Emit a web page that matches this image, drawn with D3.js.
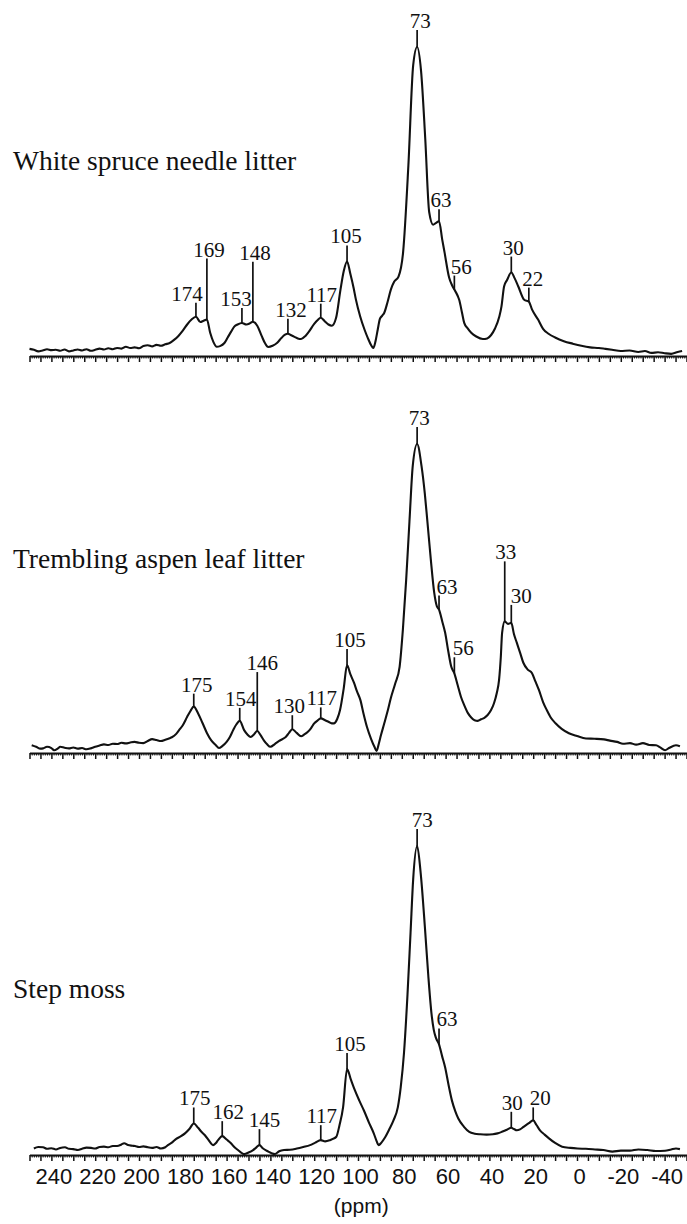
<!DOCTYPE html>
<html>
<head>
<meta charset="utf-8">
<script src="https://cdn.jsdelivr.net/npm/d3@7"></script>
<style>
  html, body { margin: 0; padding: 0; background: #fff; }
  svg { display: block; }
</style>
</head>
<body>
<svg id="chart" width="687" height="1224"></svg>
<script>
// Solid-state 13C CPMAS NMR spectra of three forest-floor litters.
// Each spectrum: [chemical shift (ppm), relative intensity (main 73 ppm peak = 100)].

const sampleNames = ["White spruce needle litter", "Trembling aspen leaf litter", "Step moss"];

const spruceSpectrum = [
  [250, 2.3], [248, 2.0], [246, 1.5], [244, 1.8], [242, 2.2], [240, 1.9], [238, 2.0], [236, 1.7],
  [234, 2.1], [232, 1.5], [230, 1.8], [228, 2.1], [226, 1.8], [224, 2.2], [222, 1.7], [220, 2.0],
  [218, 2.4], [216, 2.1], [214, 2.5], [212, 2.2], [210, 2.6], [208, 2.4], [206, 3.0], [204, 2.6],
  [202, 2.8], [200, 2.5], [198, 3.2], [196, 3.5], [194, 3.1], [192, 3.6], [190, 3.3], [188, 3.8],
  [186, 4.2], [184, 5.2], [182, 6.5], [180, 8.2], [178, 10.2], [176, 11.8], [174, 12.7], [172, 11.0],
  [170.5, 11.4], [169, 11.8], [167.5, 7.5], [166, 4.5], [164.5, 3.0], [163, 3.2], [161, 4.2], [159.5, 6.0],
  [158, 7.8], [156.5, 9.5], [155, 10.2], [153, 10.7], [151, 10.2], [149.5, 10.5], [148, 11.1], [146, 9.8],
  [144, 6.5], [142.5, 4.2], [141, 2.9], [139, 3.3], [137, 4.2], [135, 5.8], [133.5, 6.8], [132, 7.2],
  [130.5, 6.7], [129, 6.2], [127.5, 5.7], [126, 5.5], [124, 6.5], [122.5, 7.8], [120, 10.4], [118.5, 11.6],
  [117, 12.4], [115, 11.1], [113.5, 10.2], [112, 9.8], [110, 12.4], [108, 21.5], [106.5, 27.5], [105, 30.6],
  [103.5, 26.6], [102, 22.0], [101, 18.4], [99, 12.8], [97, 8.5], [95.5, 5.8], [94, 3.5], [93, 2.6],
  [92, 4.8], [91, 8.5], [90, 12.0], [89, 13.0], [88, 14.0], [86.5, 17.5], [85, 21.5], [83.5, 24.0],
  [81.5, 25.7], [79.4, 33.6], [77, 61.6], [74.8, 94.1], [73, 100], [71.2, 92.2], [69.3, 70.4], [67.5, 46.6],
  [65.7, 42.5], [64.5, 43.0], [63, 43.6], [61.5, 37.5], [60.5, 33.6], [58.4, 25.4], [57, 22.8], [56, 21.5],
  [54.5, 19.5], [53.8, 18.2], [52.5, 14.0], [51.5, 10.7], [50, 9.0], [48.3, 7.5], [46, 6.3], [43, 5.5],
  [41, 5.7], [39.2, 6.8], [37.5, 8.8], [35.5, 12.7], [34.5, 16.0], [33.3, 22.5], [32, 24.5], [30, 27.0],
  [28.5, 25.2], [26.8, 22.5], [24.1, 18.2], [22, 17.6], [20.5, 15.0], [17.7, 11.7], [15.5, 8.8], [13, 7.2],
  [10, 6.0], [6, 4.8], [2, 4.0], [-2, 3.3], [-6, 2.8], [-10, 2.6], [-13, 2.3], [-16, 2.0],
  [-20, 1.6], [-24, 1.8], [-28, 1.3], [-31, 1.6], [-34, 1.0], [-37, 1.2], [-40, 0.9], [-43, 0.7],
  [-46, 1.3], [-48, 1.6]
];

const aspenSpectrum = [
  [249, 2.5], [247, 2.0], [245, 1.4], [243.8, 1.5], [242, 2.0], [240, 1.6], [238.8, 0.9], [237, 1.5],
  [236, 2.0], [234, 1.7], [232, 1.5], [230, 1.8], [228, 1.4], [226, 1.6], [224, 1.2], [222, 1.5],
  [220, 2.0], [218, 2.4], [216, 2.8], [214, 2.6], [212, 3.0], [210, 2.9], [208, 3.3], [206, 3.1],
  [204, 3.4], [202, 3.6], [200, 3.3], [198, 3.2], [196, 3.9], [194, 4.5], [192, 4.2], [190, 3.9],
  [188, 4.3], [186, 4.8], [185, 5.1], [183, 6.2], [181.7, 7.4], [180, 9.0], [178, 11.7], [176.5, 13.6],
  [175, 15.0], [173, 12.8], [171, 9.7], [169, 6.5], [167, 4.1], [165, 2.6], [163.5, 1.6], [162, 2.2],
  [160, 3.6], [158.5, 5.2], [157, 7.4], [155.5, 9.3], [154, 10.4], [152, 7.4], [150.5, 6.0], [149, 5.2],
  [147.5, 6.0], [146, 7.1], [144.5, 5.8], [143, 4.1], [141.5, 2.8], [140, 2.0], [138, 2.9], [136, 3.9],
  [134.5, 4.5], [133, 5.2], [131.5, 6.5], [130, 7.7], [128, 6.5], [126, 5.4], [124.5, 6.0], [123, 6.8],
  [121.5, 8.0], [120, 9.6], [118.5, 10.5], [117, 11.2], [115, 10.6], [113.5, 10.1], [112, 9.6], [111, 9.6],
  [109.5, 11.0], [108.2, 13.9], [106.5, 21.0], [105, 28.5], [103.5, 25.5], [101.8, 22.7], [100.5, 20.0], [98.9, 17.1],
  [97.5, 12.8], [95.9, 8.4], [94, 4.5], [92.5, 2.0], [91.5, 0.7], [90.5, 3.0], [89.5, 5.8], [88, 9.6],
  [86.5, 13.5], [85, 17.8], [83, 22.5], [81, 27.9], [79.5, 40.0], [78, 56.1], [76.5, 75.0], [75, 92.9],
  [73, 100], [71, 92.9], [69.5, 84.0], [68.4, 75.6], [66.8, 63.0], [65.2, 51.9], [64, 47.5], [63, 46.4],
  [61.5, 42.5], [60.2, 38.9], [58.8, 33.0], [57.4, 27.9], [56, 25.8], [54.5, 22.0], [53, 18.2], [51.5, 15.5],
  [49.8, 12.9], [48.3, 11.5], [46.8, 10.6], [45.3, 10.4], [43.8, 10.9], [42.3, 11.4], [40.8, 12.3], [39.3, 13.8],
  [37.9, 16.1], [36.6, 19.5], [35.6, 23.6], [34.8, 31.0], [34.2, 38.9], [33, 42.6], [31.5, 41.8], [30, 42.1],
  [28.8, 38.5], [27.5, 35.7], [26, 32.5], [24.5, 29.2], [22.5, 27.0], [20.6, 25.9], [19, 23.2], [17.4, 20.4],
  [15.5, 16.5], [13.8, 13.9], [12, 11.5], [9.8, 9.6], [7, 7.8], [3.7, 6.4], [0, 5.5], [-4.1, 4.7],
  [-8, 4.6], [-12.3, 4.4], [-15, 4.0], [-18.3, 3.6], [-21, 3.0], [-24.2, 3.2], [-27, 2.7], [-30.1, 3.2],
  [-33, 2.6], [-36.1, 2.5], [-38, 1.8], [-40.2, 0.9], [-42, 1.6], [-45.2, 2.5], [-47, 2.2]
];

const mossSpectrum = [
  [248, 2.1], [246, 2.6], [243.8, 2.5], [242, 2.0], [240, 2.2], [237.9, 1.8], [236, 2.3], [233.8, 2.5],
  [232, 2.0], [230, 1.9], [227.9, 1.6], [226, 2.0], [224, 2.4], [221.9, 2.3], [220, 2.1], [218, 2.6],
  [216, 2.7], [214, 2.5], [212, 2.9], [210, 2.9], [208, 3.4], [206.8, 3.8], [205, 3.2], [203, 3.0],
  [201.8, 2.9], [200, 2.6], [198, 2.8], [195.9, 2.5], [194, 2.3], [192, 2.6], [190, 2.1], [188, 2.5],
  [186.8, 3.2], [185, 4.0], [183, 5.2], [181, 6.0], [179, 7.0], [177, 8.4], [175, 10.2], [173, 8.8],
  [171.5, 7.5], [169.9, 6.4], [168, 4.6], [166.2, 3.2], [165, 3.8], [163.9, 4.8], [162, 6.1], [160, 5.0],
  [158, 3.8], [156.5, 2.6], [154.8, 1.6], [153, 0.6], [151.9, 0.3], [150, 0.8], [147.9, 1.6], [146.5, 2.4],
  [145, 3.2], [143.5, 2.2], [142, 1.5], [140.9, 1.1], [139.5, 0.6], [137.9, 0.3], [136, 1.2], [133.8, 1.6],
  [131, 1.7], [127.9, 2.1], [125, 2.6], [121.9, 3.2], [119.5, 4.0], [117, 4.8], [115, 4.4], [112.8, 4.8],
  [111.5, 5.2], [109.9, 5.9], [108.5, 9.5], [106.8, 15.5], [105, 27.8], [103.2, 24.3], [101.4, 20.9], [99.4, 17.6],
  [97.3, 14.4], [95, 10.5], [92.8, 7.0], [91.5, 4.5], [90.6, 3.2], [89.3, 4.0], [87.9, 5.4], [85.8, 8.2],
  [83.8, 11.2], [81.8, 15.5], [80.5, 21.9], [79, 33.0], [77.4, 51.9], [76, 72.0], [74.8, 89.3], [73, 100],
  [71.4, 91.4], [69.4, 73.2], [67.9, 58.0], [66.4, 45.5], [65.4, 40.5], [64.4, 37.9], [63, 35.8], [61.6, 32.0],
  [60.2, 28.3], [58.6, 22.5], [57.1, 17.6], [55.6, 14.2], [54.2, 11.8], [51.7, 9.2], [49.2, 7.5], [46.7, 6.9],
  [44.2, 6.7], [41.3, 6.6], [38.4, 6.7], [36.3, 7.0], [34.3, 7.5], [32, 8.2], [30, 8.8], [28.8, 8.4],
  [27.5, 8.0], [26, 8.3], [24.4, 9.1], [22, 10.3], [20, 11.2], [18.5, 9.7], [16.9, 8.0], [14.8, 6.6],
  [12.8, 5.4], [10, 3.9], [6.8, 2.7], [3, 2.3], [-0.2, 2.1], [-4, 2.0], [-8.2, 1.8], [-12, 1.6],
  [-16.2, 1.1], [-20, 1.4], [-24.2, 1.4], [-28, 1.8], [-32.2, 1.6], [-36, 1.3], [-40.2, 1.4], [-43, 1.8],
  [-45.2, 2.1], [-47, 1.9]
];

// Assigned peak positions (ppm) annotated on each spectrum
const sprucePeaks = [174, 169, 153, 148, 132, 117, 105, 73, 63, 56, 30, 22];
const aspenPeaks  = [175, 154, 146, 130, 117, 105, 73, 63, 56, 33, 30];
const mossPeaks   = [175, 162, 145, 117, 105, 73, 63, 30, 20];

// Chemical-shift axis
const tickLabels = [240, 220, 200, 180, 160, 140, 120, 100, 80, 60, 40, 20, 0, -20, -40];
const axisTitle = "(ppm)";

// ---------------------------------------------------------------------------
// Layout
const svg = d3.select("#chart");
const serif = "'Liberation Serif', 'Times New Roman', Times, serif";
const sans = "'Liberation Sans', Arial, Helvetica, sans-serif";
const ink = "#111";

const x = d3.scaleLinear().domain([250, -50]).range([29.5, 686.5]);

const panelHeight = 309;
const panels = [
  { name: sampleNames[0], data: spruceSpectrum, peaks: sprucePeaks, axisY: 356, titleY: 170,
    // annotation layout per peak: [horizontal text offset, stem length] in px
    layout: { 174: [-9, 14], 169: [2, 61], 153: [-6, 15], 148: [2, 60], 132: [3, 15], 117: [1, 14],
              105: [-1, 16], 73: [3, 17], 63: [2, 12], 56: [7, 14], 30: [2, 16], 22: [4, 14] } },
  { name: sampleNames[1], data: aspenSpectrum, peaks: aspenPeaks, axisY: 753, titleY: 568,
    layout: { 175: [3, 13], 154: [1, 13], 146: [5, 59], 130: [-3, 14], 117: [1, 11], 105: [3, 16],
              73: [2, 17], 63: [8, 14], 56: [9, 16], 33: [1, 60], 30: [10, 18] } },
  { name: sampleNames[2], data: mossSpectrum, peaks: mossPeaks, axisY: 1155, titleY: 998,
    layout: { 175: [1, 16], 162: [6, 15], 145: [5, 16], 117: [1, 15], 105: [3, 16], 73: [5, 17],
              63: [8, 16], 30: [1, 16], 20: [7, 13] } }
];

const majorTicks = d3.range(250, -50.1, -5);
const minorTicks = d3.range(250, -50.1, -1).filter(v => v % 5 !== 0);

panels.forEach((p, i) => {
  const y = d3.scaleLinear().domain([0, 100]).range([p.axisY, p.axisY - panelHeight]);
  const g = svg.append("g").attr("class", "panel");

  // ppm axis with 5-ppm ticks and 1-ppm minor ticks
  const minorAxis = d3.axisBottom(x).tickValues(minorTicks).tickSize(2.5).tickSizeOuter(0).tickFormat("");
  const majorAxis = d3.axisBottom(x).tickValues(majorTicks).tickSize(6).tickSizeOuter(0).tickFormat("");

  const gMinor = g.append("g").attr("transform", `translate(0,${p.axisY})`).call(minorAxis);
  gMinor.select(".domain").remove();
  gMinor.selectAll(".tick line").attr("stroke", ink).attr("stroke-width", 1);

  const gMajor = g.append("g").attr("transform", `translate(0,${p.axisY})`).call(majorAxis);
  gMajor.select(".domain").attr("stroke", ink).attr("stroke-width", 2);
  gMajor.selectAll(".tick line").attr("stroke", ink).attr("stroke-width", 1.5);

  if (i === panels.length - 1) {
    const labelAxis = d3.axisBottom(x).tickValues(tickLabels).tickSize(0).tickPadding(13)
      .tickFormat(d => String(d));
    const gLab = g.append("g").attr("transform", `translate(0,${p.axisY})`).call(labelAxis);
    gLab.select(".domain").remove();
    gLab.selectAll(".tick text")
      .attr("font-family", sans).attr("font-size", 22).attr("fill", ink).attr("dx", 2);

    g.append("text")
      .attr("x", x(98.5)).attr("y", 1213)
      .attr("text-anchor", "middle")
      .attr("font-family", sans).attr("font-size", 21).attr("fill", ink)
      .text(axisTitle);
  }

  // spectrum trace
  const line = d3.line()
    .x(d => x(d[0]))
    .y(d => y(d[1]))
    .curve(d3.curveMonotoneX);

  g.append("path")
    .datum(p.data)
    .attr("d", line)
    .attr("fill", "none")
    .attr("stroke", ink)
    .attr("stroke-width", 2.1)
    .attr("stroke-linejoin", "round");

  // sample title
  g.append("text")
    .attr("x", 13).attr("y", p.titleY)
    .attr("font-family", serif).attr("font-size", 27.5).attr("fill", ink)
    .text(p.name);

  // peak annotations: stem from the trace, value above
  const lookup = new Map(p.data.map(d => [d[0], d[1]]));
  p.peaks.forEach(pk => {
    const v = lookup.get(pk);
    const [dx, stem] = p.layout[pk];
    const px = x(pk), py = y(v);
    g.append("line")
      .attr("x1", px).attr("x2", px)
      .attr("y1", py).attr("y2", py - stem)
      .attr("stroke", ink).attr("stroke-width", 1.7);
    g.append("text")
      .attr("x", px + dx).attr("y", py - stem - 2)
      .attr("text-anchor", "middle")
      .attr("font-family", serif).attr("font-size", 21).attr("fill", ink)
      .text(pk);
  });
});
</script>
</body>
</html>
